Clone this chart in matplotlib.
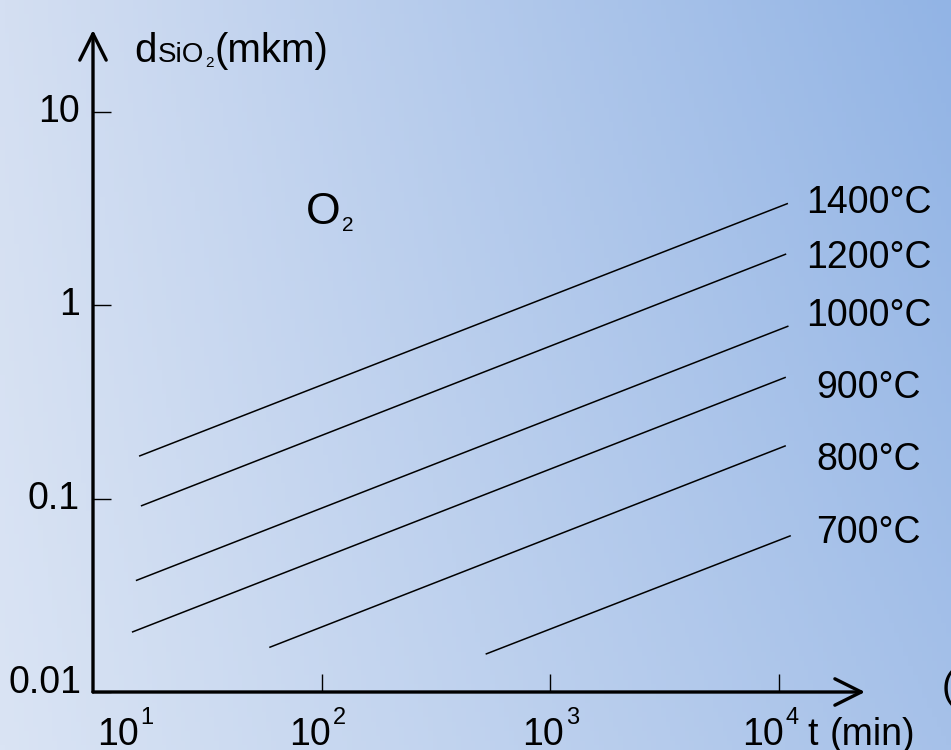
import numpy as np
import matplotlib
matplotlib.use('Agg')
import matplotlib.pyplot as plt
from matplotlib import font_manager

# oxide thickness vs. oxidation time in dry O2, log-log
temps = ['1400°C', '1200°C', '1000°C', '900°C', '800°C', '700°C']
t_start = [15.9, 16.2, 15.4, 14.8, 59.0, 521]
d_start = [0.166, 0.0917, 0.0377, 0.0204, 0.0170, 0.0157]
t_end = [10930, 10740, 10990, 10700, 10700, 11250]
d_end = [3.37, 1.845, 0.782, 0.425, 0.188, 0.0644]

x_ticks = [100, 1000, 10000]
x_tick_exps = ['1', '2', '3', '4']
y_ticks = [0.01, 0.1, 1, 10]
y_tick_labels = ['0.01', '0.1', '1', '10']

W, H = 951, 750
names = {f.name for f in font_manager.fontManager.ttflist}
REG = 'Liberation Sans'
if 'Liberation Sans Narrow' in names:
    NARROW, NSIZE = 'Liberation Sans Narrow', 31
else:
    NARROW, NSIZE = REG, 27

fig = plt.figure(figsize=(W / 100, H / 100), dpi=100)
renderer = fig.canvas.get_renderer()

# background gradient
bg = fig.add_axes([0, 0, 1, 1], zorder=-1)
tl = np.array([212, 223, 242]) / 255
tr = np.array([146, 180, 229]) / 255
bl = np.array([218, 228, 244]) / 255
br = np.array([166, 193, 233]) / 255
u = np.linspace(0, 1, 200)[None, :, None]
v = np.linspace(0, 1, 160)[:, None, None]
img = (1 - v) * ((1 - u) * tl + u * tr) + v * ((1 - u) * bl + u * br)
bg.imshow(img, aspect='auto', extent=[0, 1, 0, 1])
bg.axis('off')


def px(x, y):
    return x / W, 1 - y / H


def chain(x, pieces):
    """pieces: (text, y_baseline, family, size, gap_after) placed left to right"""
    for s, y, fam, size, gap in pieces:
        t = fig.text(*px(x, y), s, family=fam, fontsize=size,
                     ha='left', va='baseline')
        x = t.get_window_extent(renderer).x1 + gap
    return x


# axes placement in pixels
x0, y0 = 93, 692
dec_x, dec_y = 228.7, 193.3
x1, y1 = 865, 30
ax = fig.add_axes([x0 / W, 1 - y0 / H, (x1 - x0) / W, (y0 - y1) / H])
ax.set_facecolor('none')
ax.set_xscale('log')
ax.set_yscale('log')
ax.set_xlim(10, 10 ** (1 + (x1 - x0) / dec_x))
ax.set_ylim(0.01, 10 ** (-2 + (y0 - y1) / dec_y))
for s in ax.spines.values():
    s.set_visible(False)

for ts, ds, te, de in zip(t_start, d_start, t_end, d_end):
    ax.plot([ts, te], [ds, de], color='black', lw=1.1, solid_capstyle='butt')

ax.set_xticks(x_ticks)
ax.set_yticks(y_ticks)
ax.minorticks_off()
ax.tick_params(which='major', direction='in', length=13, width=1.0,
               labelbottom=False, labelleft=False, color='black')

# axis arrows
arrow = dict(arrowstyle='->,head_length=1.9,head_width=0.95',
             lw=2.4, color='black', shrinkA=0, shrinkB=0)
ax.annotate('', xy=(1, 0), xytext=(0, 0), xycoords='axes fraction', arrowprops=arrow)
ax.annotate('', xy=(0, 1), xytext=(0, 0), xycoords='axes fraction', arrowprops=arrow)

# y tick labels
y_lab_pos = [(82, 683), (80, 499), (80, 305), (80, 112)]
for lab, (x, y) in zip(y_tick_labels, y_lab_pos):
    fig.text(*px(x, y), lab, family=NARROW, fontsize=NSIZE, ha='right', va='center')

# x tick labels: "10" with superscript exponent
x_lab_pos = [97, 289, 522, 742]
for e, x in zip(x_tick_exps, x_lab_pos):
    end = chain(x, [('10', 745, NARROW, NSIZE, 2), (e, 724, NARROW, 17, 0)])
chain(end + 8, [('t', 745, NARROW, NSIZE, 12), ('(min)', 745, NARROW, NSIZE, 0)])
fig.text(*px(942, 698), '(', family=NARROW, fontsize=NSIZE, ha='left', va='baseline')

# y axis title
chain(134, [('d', 62, REG, 29, 1), ('SiO', 62, REG, 20, 1),
            ('2', 67, REG, 11, 1), ('(mkm)', 62, REG, 29, 0)])

# gas label
chain(306, [('O', 224, REG, 32, 1), ('2', 231, REG, 15, 0)])

# temperature labels
temp_pos = [(806, 203), (806, 258), (806, 316), (816, 388), (816, 460), (816, 533)]
for lab, (x, y) in zip(temps, temp_pos):
    fig.text(*px(x, y), lab, family=NARROW, fontsize=NSIZE, ha='left', va='center')

fig.savefig('out.png', dpi=100)
